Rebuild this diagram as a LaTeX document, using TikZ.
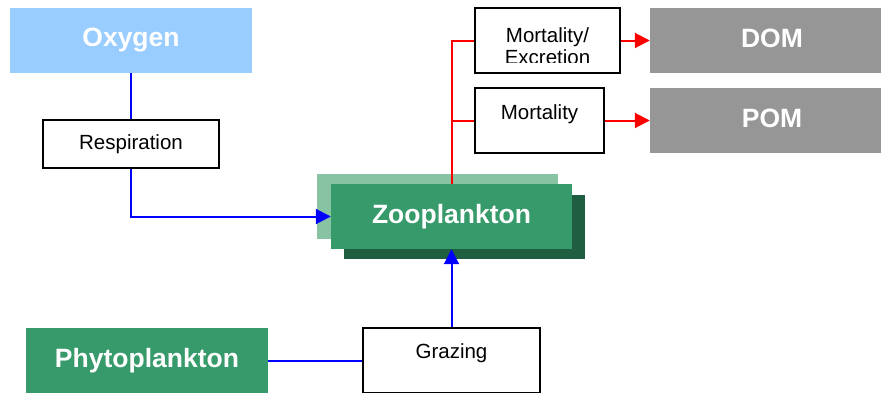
\documentclass[tikz,border=0pt]{standalone}
\usepackage{fontspec}
\setmainfont{Liberation Sans}
\usetikzlibrary{arrows.meta}
\definecolor{oxblue}{HTML}{99CCFF}
\definecolor{zgreen}{HTML}{369A6A}
\definecolor{zlight}{HTML}{88C4A4}
\definecolor{zdark}{HTML}{1F5E40}
\definecolor{omgray}{HTML}{969696}
\tikzset{
  fillbox/.style={rectangle, draw=none, minimum width=#1, minimum height=65pt, inner sep=0pt, font=\fontsize{26.5}{30}\selectfont\bfseries, text=white},
  procbox/.style={rectangle, draw=black, line width=1.8pt, fill=white, inner sep=0pt},
  proclabel/.style={font=\fontsize{20.5}{22}\selectfont, text=black, inner sep=0pt, align=center},
  blueline/.style={draw={rgb,255:red,0;green,0;blue,255}, line width=2pt},
  redline/.style={draw=red, line width=2pt},
  tip/.style={-{Triangle[length=15pt,width=15pt]}}
}
\begin{document}
\begin{tikzpicture}[x=1pt,y=-1pt]
\useasboundingbox (0,0) rectangle (881,392);
\clip (0,0) rectangle (881,392);
% filled boxes
\node[fillbox=242pt, fill=oxblue] (oxy) at (131,40.5) {\raisebox{4pt}{Oxygen}};
\node[fillbox=244pt, fill=omgray] (dom) at (772,40.5) {\raisebox{4pt}{DOM}};
\node[fillbox=244pt, fill=omgray] (pom) at (772,120.5) {\raisebox{4pt}{POM}};
\node[fillbox=242pt, fill=zgreen] (phy) at (147,360.5) {\raisebox{3.5pt}{Phytoplankton}};
% zooplankton stack
\node[fillbox=241pt, fill=zlight] (zooback) at (437.5,206.5) {};
\node[fillbox=241pt, minimum height=64pt, fill=zdark] (zoodark) at (464.5,227) {};
% process boxes on the right
\node[procbox, minimum width=145pt, minimum height=65pt] (mortex) at (547.5,40.5) {};
\node[procbox, minimum width=129pt, minimum height=65pt] (mort) at (539.5,120.5) {};
\node[fillbox=241pt, fill=zgreen] (zoo) at (451.5,216.5) {\raisebox{4pt}{Zooplankton}};
\draw[redline] (zoo.north) -- (zoo.north |- mortex.west) -- (mortex.west);
\draw[redline] (zoo.north |- mort.west) -- (mort.west);
\draw[redline, tip] (mortex.east) -- (dom.west);
\draw[redline, tip] (mort.east) -- (pom.west);
% process boxes
\node[procbox, minimum width=176pt, minimum height=48pt] (resp) at (131,144) {};
\node[proclabel] (resptxt) at (131,144) {Respiration};
\node[procbox, minimum width=177pt, minimum height=65pt] (graz) at (451.5,360.5) {};
\node[proclabel] (graztxt) at (451.5,353) {Grazing};
\node[proclabel] (morttxt) at (539.5,114) {Mortality};
\begin{scope}
  \clip (476,9) rectangle (619,62);
  \node[proclabel] (mortextxt) at (547.5,46) {Mortality/\\Excretion};
\end{scope}
% blue connectors
\draw[blueline] (oxy.south) -- (resp.north);
\draw[blueline, tip] (resp.south) |- (zoo.west);
\draw[blueline] (phy.east) -- (graz.west);
\draw[blueline, tip] (graz.north) -- (zoo.south);
\end{tikzpicture}
\end{document}
